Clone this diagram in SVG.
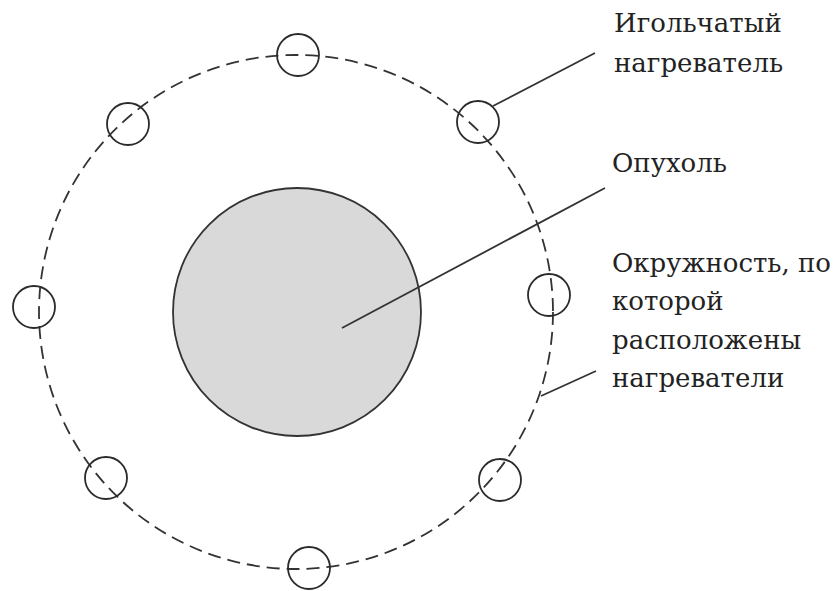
<svg xmlns="http://www.w3.org/2000/svg" width="838" height="591" viewBox="0 0 838 591">
<style>
.dash{fill:none;stroke:#333;stroke-width:1.8;stroke-dasharray:13 7}
.heater{fill:none;stroke:#2b2b2b;stroke-width:1.8}
.tumor{fill:#d9d9d9;stroke:#333;stroke-width:1.8}
.lead{stroke:#333;stroke-width:1.8;fill:none}
.lbl{font-family:"DejaVu Serif","Liberation Serif",serif;font-size:26px;fill:#222}
</style>
<rect width="838" height="591" fill="#fff"/>
<g id="ring"><circle class="dash" cx="296" cy="312" r="257"/></g>
<g id="tumor"><circle class="tumor" cx="297" cy="312" r="124"/></g>
<g id="heater-top"><circle class="heater" cx="298" cy="55" r="21"/></g>
<g id="heater-ul"><circle class="heater" cx="128" cy="124" r="21"/></g>
<g id="heater-ur"><circle class="heater" cx="478" cy="122" r="21"/></g>
<g id="heater-l"><circle class="heater" cx="34" cy="307" r="21"/></g>
<g id="heater-r"><circle class="heater" cx="549" cy="295" r="21"/></g>
<g id="heater-ll"><circle class="heater" cx="106" cy="478" r="21"/></g>
<g id="heater-lr"><circle class="heater" cx="500" cy="480" r="21"/></g>
<g id="heater-b"><circle class="heater" cx="309" cy="568" r="21"/></g>
<g id="connectors">
<line class="lead" x1="493" y1="106" x2="595" y2="53"/>
<line class="lead" x1="342" y1="328" x2="605" y2="188"/>
<line class="lead" x1="541" y1="396" x2="596" y2="371"/>
</g>
<g id="label-heater"><text class="lbl" x="614" y="32">Игольчатый</text><text class="lbl" x="614" y="72">нагреватель</text></g>
<g id="label-tumor"><text class="lbl" x="612" y="172">Опухоль</text></g>
<g id="label-ring"><text class="lbl" x="612" y="272">Окружность, по</text><text class="lbl" x="612" y="310">которой</text><text class="lbl" x="612" y="349">расположены</text><text class="lbl" x="612" y="387">нагреватели</text></g>
</svg>
